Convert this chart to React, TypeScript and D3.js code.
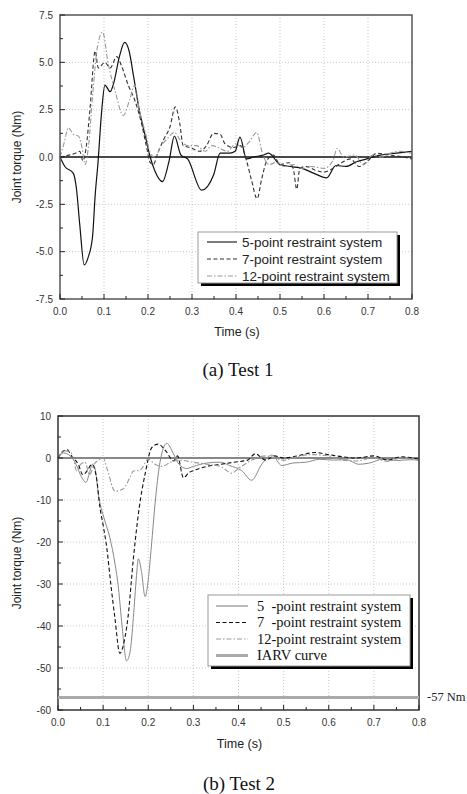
import React from 'react';
import * as d3 from 'd3';

// ---- Test 1 data (time s, torque Nm) ----
const t1FiveT = [0, 0.011, 0.03, 0.037, 0.045, 0.055, 0.064, 0.074, 0.08, 0.086, 0.095, 0.102, 0.114, 0.122, 0.135, 0.147, 0.157, 0.167, 0.18, 0.195, 0.205, 0.215, 0.233, 0.248, 0.26, 0.275, 0.29, 0.322, 0.349, 0.364, 0.386, 0.398, 0.409, 0.424, 0.44, 0.462, 0.474, 0.5, 0.523, 0.55, 0.576, 0.606, 0.627, 0.65, 0.674, 0.697, 0.727, 0.765, 0.8];
const t1FiveV = [0, -0.5, -0.85, -1.6, -3.6, -5.7, -5.3, -4.2, -2.0, -0.4, 2.5, 3.8, 3.45, 3.9, 5.3, 6.05, 5.6, 4.3, 2.5, 1.0, 0.0, -0.7, -1.3, -0.2, 1.1, 0.1, -0.1, -1.75, -0.95, 0.2, 0.2, 0.3, 1.05, -0.1, 0.0, 0.1, 0.2, -0.4, -0.5, -0.6, -0.85, -1.1, -0.45, -0.5, -0.25, -0.1, 0.1, 0.2, 0.3];

const t1SevenT = [0, 0.02, 0.035, 0.045, 0.052, 0.06, 0.068, 0.08, 0.087, 0.102, 0.114, 0.129, 0.14, 0.155, 0.17, 0.185, 0.197, 0.205, 0.212, 0.222, 0.235, 0.25, 0.262, 0.272, 0.28, 0.296, 0.318, 0.333, 0.349, 0.364, 0.375, 0.394, 0.41, 0.424, 0.435, 0.448, 0.458, 0.47, 0.485, 0.5, 0.52, 0.53, 0.538, 0.545, 0.56, 0.58, 0.6, 0.62, 0.64, 0.66, 0.68, 0.7, 0.72, 0.75, 0.78, 0.8];
const t1SevenV = [0, 0.1, 0.2, 0.3, -0.2, 0.6, 2.5, 5.6, 4.7, 5.0, 4.7, 5.3, 4.8, 3.8, 3.0, 1.8, 0.5, -0.3, -0.4, 0.2, 0.9, 1.6, 2.65, 1.8, 0.6, 0.5, 0.3, 0.6, 1.25, 1.2, 0.7, 0.5, 0.6, -0.2, -1.2, -2.2, -1.2, -0.2, 0.1, -0.4, -0.3, -0.6, -1.7, -0.6, -0.5, -0.7, -0.8, -0.6, -0.3, -0.1, -0.5, -0.2, 0.2, 0.1, 0.0, -0.1];

const t1TwelveT = [0, 0.01, 0.019, 0.03, 0.042, 0.05, 0.057, 0.065, 0.075, 0.085, 0.097, 0.109, 0.125, 0.144, 0.158, 0.17, 0.18, 0.195, 0.205, 0.215, 0.23, 0.245, 0.26, 0.273, 0.29, 0.31, 0.33, 0.345, 0.36, 0.38, 0.4, 0.415, 0.43, 0.447, 0.46, 0.475, 0.49, 0.51, 0.53, 0.55, 0.57, 0.6, 0.62, 0.63, 0.645, 0.67, 0.69, 0.71, 0.73, 0.75, 0.77, 0.8];
const t1TwelveV = [0, 0.8, 1.55, 1.2, 1.1, 0.5, -0.4, 0.6, 3.5, 5.8, 6.6, 5.0, 3.5, 2.2, 3.0, 3.8, 2.5, 1.2, 0.2, 0.0, 0.6, 1.0, 1.3, 0.9, 0.6, 0.6, 0.3, 0.6, 0.5, 0.3, 0.7, 0.5, 0.8, 1.3, 0.2, -0.4, -0.3, -0.5, -0.4, -0.6, -0.5, -0.6, -0.2, 0.45, 0.0, 0.1, -0.4, 0.1, 0.0, 0.2, 0.3, 0.2];

// ---- Test 2 data ----
const t2FiveT = [0, 0.012, 0.027, 0.04, 0.052, 0.062, 0.07, 0.076, 0.082, 0.09, 0.104, 0.115, 0.126, 0.134, 0.142, 0.152, 0.16, 0.167, 0.174, 0.178, 0.185, 0.193, 0.2, 0.207, 0.215, 0.226, 0.241, 0.256, 0.268, 0.285, 0.3, 0.33, 0.36, 0.38, 0.407, 0.429, 0.452, 0.474, 0.496, 0.52, 0.55, 0.58, 0.61, 0.64, 0.666, 0.69, 0.72, 0.75, 0.78, 0.8];
const t2FiveV = [0, 1.2, 0.5, -1.5, -4.5, -5.8, -3.5, -1.5, -2.5, -9, -15, -19, -25, -31, -40, -48.3, -46, -38, -28, -24, -27, -33, -29, -21, -11, -1, 3.5, 1, -1.5, -2.5, -2.0, -1.2, -1.0, -1.8, -3.0, -5.3, -1.4, 0.7, -1.8, -1.2, -1.0, -0.3, -0.5, -0.4, -1.5, -1.2, -0.3, -0.6, -0.4, -0.5];

const t2SevenT = [0, 0.01, 0.02, 0.03, 0.045, 0.055, 0.065, 0.075, 0.085, 0.093, 0.1, 0.108, 0.117, 0.126, 0.137, 0.146, 0.155, 0.167, 0.18, 0.193, 0.208, 0.222, 0.24, 0.256, 0.265, 0.278, 0.29, 0.3, 0.33, 0.36, 0.39, 0.42, 0.437, 0.46, 0.48, 0.5, 0.53, 0.57, 0.6, 0.63, 0.66, 0.7, 0.73, 0.76, 0.8];
const t2SevenV = [0, 1.5, 2.0, 0.5, -1.5, -4.0, -3.0, -1.5, -4.5, -11.8, -16, -21.3, -30, -38, -46.5, -44, -38, -24, -11.8, -3.8, 2.5, 3.3, 1.5, -0.7, 0.5, -4.7, -3.5, -3.0, -2.0, -1.5, -1.0, -0.5, 1.0, -0.5, 0.5, 0, 0.5, 1.3, 0.8, 0.3, 0.0, 0.5, -0.5, 0.3, -0.3];

const t2TwelveT = [0, 0.012, 0.027, 0.035, 0.041, 0.05, 0.06, 0.07, 0.08, 0.09, 0.1, 0.11, 0.126, 0.144, 0.16, 0.167, 0.182, 0.2, 0.215, 0.23, 0.25, 0.27, 0.3, 0.33, 0.36, 0.385, 0.4, 0.43, 0.46, 0.5, 0.53, 0.56, 0.6, 0.63, 0.66, 0.7, 0.73, 0.76, 0.8];
const t2TwelveV = [0, 1.7, 1.5, -0.5, -3, -1.5, -1, -4, -1.5, -0.5, 0, -3, -7.9, -7.4, -4.5, -3.1, -2.9, -0.3, -1.5, -2, -1, -0.5, -1.0, -1.5, -2.0, -3.6, -2.5, -0.5, 0.5, -0.5, 0.3, 0.8, 0.5, -0.5, -0.7, 0.0, -0.8, 0.0, -0.5];

const xTicks = [0, 0.1, 0.2, 0.3, 0.4, 0.5, 0.6, 0.7, 0.8];
const y1Ticks = [-7.5, -5, -2.5, 0, 2.5, 5, 7.5];
const y2Ticks = [-60, -50, -40, -30, -20, -10, 0, 10];
const iarv = -57;

const legend1 = ['5-point restraint system', '7-point restraint system', '12-point restraint system'];
const legend2 = ['5  -point restraint system', '7  -point restraint system', '12-point restraint system', 'IARV curve'];

const sans = 'Liberation Sans, Arial, sans-serif';
const serif = 'Liberation Serif, Times New Roman, serif';

type Series = { t: number[]; v: number[]; stroke: string; dash?: string; w: number };

function Panel(props: {
  x0: number; x1: number; yTop: number; yBot: number;
  yDomain: [number, number]; yTicks: number[]; yMinorStep: number; yFmt: (v: number) => string;
  series: Series[]; zeroStroke: string; zeroW: number; frame: string;
  tickY: number; titleY: number; ylabX: number;
}) {
  const p = props;
  const x = d3.scaleLinear([0, 0.8], [p.x0, p.x1]);
  const y = d3.scaleLinear(p.yDomain, [p.yBot, p.yTop]);
  const line = d3.line<[number, number]>().x(d => x(d[0])).y(d => y(d[1])).curve(d3.curveMonotoneX);
  const minorX = d3.range(0.05, 0.8, 0.1);
  const minorY = d3.range(p.yDomain[0] + p.yMinorStep, p.yDomain[1], p.yMinorStep * 2);
  return (
    <g>
      {/* grid */}
      {xTicks.slice(1, -1).map(t => (
        <line key={'gx' + t} x1={x(t)} x2={x(t)} y1={p.yTop} y2={p.yBot} stroke="#bbb" strokeWidth={0.8} strokeDasharray="1,2" />
      ))}
      {p.yTicks.slice(1, -1).map(v => (
        <line key={'gy' + v} x1={p.x0} x2={p.x1} y1={y(v)} y2={y(v)} stroke="#bbb" strokeWidth={0.8} strokeDasharray="1,2" />
      ))}
      {/* zero line */}
      <line x1={p.x0} x2={p.x1} y1={y(0)} y2={y(0)} stroke={p.zeroStroke} strokeWidth={p.zeroW} />
      {/* curves */}
      {p.series.map((s, i) => (
        <path key={i} d={line(s.t.map((t, j) => [t, s.v[j]]) as [number, number][]) || ''}
          fill="none" stroke={s.stroke} strokeWidth={s.w} strokeDasharray={s.dash} />
      ))}
      {/* frame */}
      <rect x={p.x0} y={p.yTop} width={p.x1 - p.x0} height={p.yBot - p.yTop} fill="none" stroke={p.frame} strokeWidth={1.5} />
      {/* ticks */}
      {xTicks.map(t => (
        <g key={'tx' + t}>
          <line x1={x(t)} x2={x(t)} y1={p.yBot} y2={p.yBot - 5} stroke="#222" strokeWidth={1} />
          <text x={x(t)} y={p.tickY} fontSize={10} fontFamily={sans} fill="#333" textAnchor="middle">{t.toFixed(1)}</text>
        </g>
      ))}
      {minorX.map(t => (
        <line key={'mx' + t} x1={x(t)} x2={x(t)} y1={p.yBot} y2={p.yBot - 3} stroke="#222" strokeWidth={1} />
      ))}
      {p.yTicks.map(v => (
        <g key={'ty' + v}>
          <line x1={p.x0} x2={p.x0 + 5} y1={y(v)} y2={y(v)} stroke="#222" strokeWidth={1} />
          <text x={p.x0 - 7} y={y(v) + 3.5} fontSize={10} fontFamily={sans} fill="#333" textAnchor="end">{p.yFmt(v)}</text>
        </g>
      ))}
      {minorY.map(v => (
        <line key={'my' + v} x1={p.x0} x2={p.x0 + 3} y1={y(v)} y2={y(v)} stroke="#222" strokeWidth={1} />
      ))}
      <text x={(p.x0 + p.x1) / 2 + 1} y={p.titleY} fontSize={12.5} fontFamily={sans} fill="#222" textAnchor="middle">Time (s)</text>
      <text transform={`translate(${p.ylabX},${(p.yTop + p.yBot) / 2}) rotate(-90)`} fontSize={12} fontFamily={sans} fill="#222" textAnchor="middle">Joint torque (Nm)</text>
    </g>
  );
}

export default function App() {
  const top: Series[] = [
    { t: t1FiveT, v: t1FiveV, stroke: '#111', w: 1.2 },
    { t: t1SevenT, v: t1SevenV, stroke: '#333', w: 1.1, dash: '4,2.5' },
    { t: t1TwelveT, v: t1TwelveV, stroke: '#999', w: 1.1, dash: '5,2,1.5,2' },
  ];
  const bot: Series[] = [
    { t: t2FiveT, v: t2FiveV, stroke: '#888', w: 1 },
    { t: t2SevenT, v: t2SevenV, stroke: '#111', w: 1.1, dash: '4,2.5' },
    { t: t2TwelveT, v: t2TwelveV, stroke: '#999', w: 1.1, dash: '5,2,1.5,2' },
  ];
  const yb = d3.scaleLinear([-60, 10], [710, 416]);
  const xb = d3.scaleLinear([0, 0.8], [58, 419]);
  return (
    <svg width={467} height={794} style={{ position: 'absolute', left: 0, top: 0, background: '#fff' }}>
      <rect width={467} height={794} fill="#fff" />
      <Panel x0={60} x1={412} yTop={15} yBot={299} yDomain={[-7.5, 7.5]} yTicks={y1Ticks} yMinorStep={1.25}
        yFmt={v => v.toFixed(1)} series={top} zeroStroke="#111" zeroW={1.6} frame="#555"
        tickY={315} titleY={336} ylabX={21} />
      {/* legend test 1 */}
      <g>
        <rect x={201} y={235} width={199} height={51} fill="#000" />
        <rect x={198} y={232} width={199} height={51} fill="#fff" stroke="#999" strokeWidth={1} />
        {legend1.map((s, i) => (
          <g key={s}>
            <line x1={207} x2={237} y1={242 + i * 17} y2={242 + i * 17} stroke={top[i].stroke} strokeWidth={1.1} strokeDasharray={top[i].dash} />
            <text x={242} y={246.5 + i * 17} fontSize={13.5} fontFamily={sans} fill="#222">{s}</text>
          </g>
        ))}
      </g>
      <text x={238} y={376} fontSize={19} fontFamily={serif} fill="#111" textAnchor="middle">(a) Test 1</text>

      <Panel x0={58} x1={419} yTop={416} yBot={710} yDomain={[-60, 10]} yTicks={y2Ticks} yMinorStep={5}
        yFmt={v => String(v)} series={bot} zeroStroke="#888" zeroW={2} frame="#333"
        tickY={726} titleY={748} ylabX={21} />
      <line x1={xb(0)} x2={xb(0.8)} y1={yb(iarv)} y2={yb(iarv)} stroke="#aaa" strokeWidth={3} />
      <text x={427} y={yb(iarv) + 4} fontSize={12.5} fontFamily={serif} fill="#222">-57 Nm</text>
      {/* legend test 2 */}
      <g>
        <rect x={211} y={598} width={202} height={71} fill="#000" />
        <rect x={208} y={595} width={202} height={71} fill="#fff" stroke="#999" strokeWidth={1} />
        {legend2.map((s, i) => {
          const st = i < 3 ? bot[i] : { stroke: '#aaa', w: 3, dash: undefined };
          return (
            <g key={s}>
              <line x1={216} x2={248} y1={606 + i * 16.5} y2={606 + i * 16.5} stroke={st.stroke} strokeWidth={i < 3 ? 1.1 : 3} strokeDasharray={st.dash} />
              <text x={257} y={610.5 + i * 16.5} fontSize={14.5} fontFamily={serif} fill="#111" style={{ whiteSpace: 'pre' }}>{s}</text>
            </g>
          );
        })}
      </g>
      <text x={239} y={790} fontSize={19} fontFamily={serif} fill="#111" textAnchor="middle">(b) Test 2</text>
    </svg>
  );
}
